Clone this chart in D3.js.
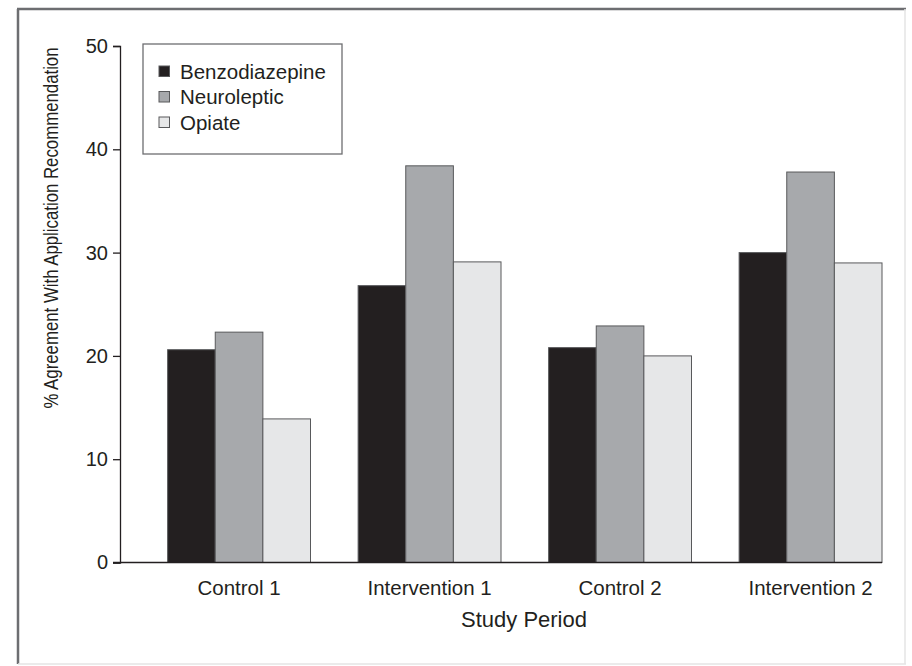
<!DOCTYPE html>
<html>
<head>
<meta charset="utf-8">
<script src="https://cdn.jsdelivr.net/npm/d3@7"></script>
<style>
  html, body { margin: 0; padding: 0; background: #fff; }
  svg { display: block; }
  text { font-family: "Liberation Sans", Arial, Helvetica, sans-serif; fill: #231f20; }
</style>
</head>
<body>
<svg id="chart" width="912" height="666"></svg>
<script>
const categories = ["Control 1", "Intervention 1", "Control 2", "Intervention 2"];
const seriesNames = ["Benzodiazepine", "Neuroleptic", "Opiate"];
const benzodiazepine = [20.6, 26.8, 20.8, 30.0];
const neuroleptic = [22.3, 38.4, 22.9, 37.8];
const opiate = [13.9, 29.1, 20.0, 29.0];
const yTicks = [0, 10, 20, 30, 40, 50];
const colors = ["#231f20", "#a7a9ac", "#e6e7e8"];

const seriesValues = [benzodiazepine, neuroleptic, opiate];
const svg = d3.select("#chart");

// frame
svg.append("line").attr("x1", 18).attr("x2", 18).attr("y1", 9).attr("y2", 664).attr("stroke", "#6d6e71").attr("stroke-width", 2.5);
svg.append("line").attr("x1", 17).attr("x2", 906).attr("y1", 9).attr("y2", 9).attr("stroke", "#6d6e71").attr("stroke-width", 2.5);
svg.append("line").attr("x1", 905).attr("x2", 905).attr("y1", 9).attr("y2", 664).attr("stroke", "#e4e4e4").attr("stroke-width", 1.5);
svg.append("line").attr("x1", 18).attr("x2", 906).attr("y1", 664).attr("y2", 664).attr("stroke", "#e4e4e4").attr("stroke-width", 1.5);

const x0 = 120, x1 = 882, yBottom = 562.5, yTop = 46;

const x = d3.scaleBand().domain(categories).range([x0, x1]).paddingInner(0.25).paddingOuter(0.125).align(1);
const xs = d3.scaleBand().domain(seriesNames).range([0, x.bandwidth()]);
const y = d3.scaleLinear().domain([0, 50]).range([yBottom, yTop]);

// bars
const groups = svg.append("g").selectAll("g").data(categories).join("g")
  .attr("transform", d => `translate(${x(d)},0)`);
groups.selectAll("rect").data((c, i) => seriesNames.map((s, j) => ({ s, j, v: seriesValues[j][i] })))
  .join("rect")
  .attr("x", d => xs(d.s))
  .attr("width", xs.bandwidth())
  .attr("y", d => y(d.v))
  .attr("height", d => y(0) - y(d.v))
  .attr("fill", d => colors[d.j])
  .attr("stroke", "#58595b")
  .attr("stroke-width", 1);

// y axis
const yAxis = d3.axisLeft(y).tickValues(yTicks).tickSize(7).tickPadding(5).tickFormat(d3.format("d"));
const gy = svg.append("g").attr("transform", `translate(${x0},0)`).call(yAxis);
gy.select(".domain").attr("stroke", "#231f20").attr("stroke-width", 1.3);
gy.selectAll(".tick line").attr("stroke", "#231f20").attr("stroke-width", 1.3);
gy.selectAll(".tick text").attr("font-size", 20).attr("font-family", null).attr("fill", "#231f20");

// x axis
const xAxis = d3.axisBottom(x).tickSize(0).tickPadding(18);
const gx = svg.append("g").attr("transform", `translate(0,${yBottom})`).call(xAxis);
gx.select(".domain").attr("d", `M${x0 - 7},0H${x1}`).attr("stroke", "#231f20").attr("stroke-width", 1.3);
gx.selectAll(".tick text").attr("font-size", 20.5).attr("font-family", null).attr("fill", "#231f20");

// axis titles
svg.append("text").attr("x", 524).attr("y", 627).attr("text-anchor", "middle")
  .attr("font-size", 22).text("Study Period");
svg.append("text").attr("transform", "translate(58,228) rotate(-90) scale(0.8,1)").attr("text-anchor", "middle")
  .attr("font-size", 21).text("% Agreement With Application Recommendation");

// legend
const leg = svg.append("g");
leg.append("rect").attr("x", 143).attr("y", 44).attr("width", 199).attr("height", 110)
  .attr("fill", "#fff").attr("stroke", "#6d6e71").attr("stroke-width", 1.3);
const items = leg.selectAll("g.item").data(seriesNames).join("g").attr("class", "item")
  .attr("transform", (d, i) => `translate(159,${71 + i * 25.5})`);
items.append("rect").attr("x", 0).attr("y", -5).attr("width", 10.5).attr("height", 10.5)
  .attr("fill", (d, i) => colors[i]).attr("stroke", "#58595b").attr("stroke-width", 1);
items.append("text").attr("x", 21).attr("y", 7.5).attr("font-size", 20.5).text(d => d);
</script>
</body>
</html>
